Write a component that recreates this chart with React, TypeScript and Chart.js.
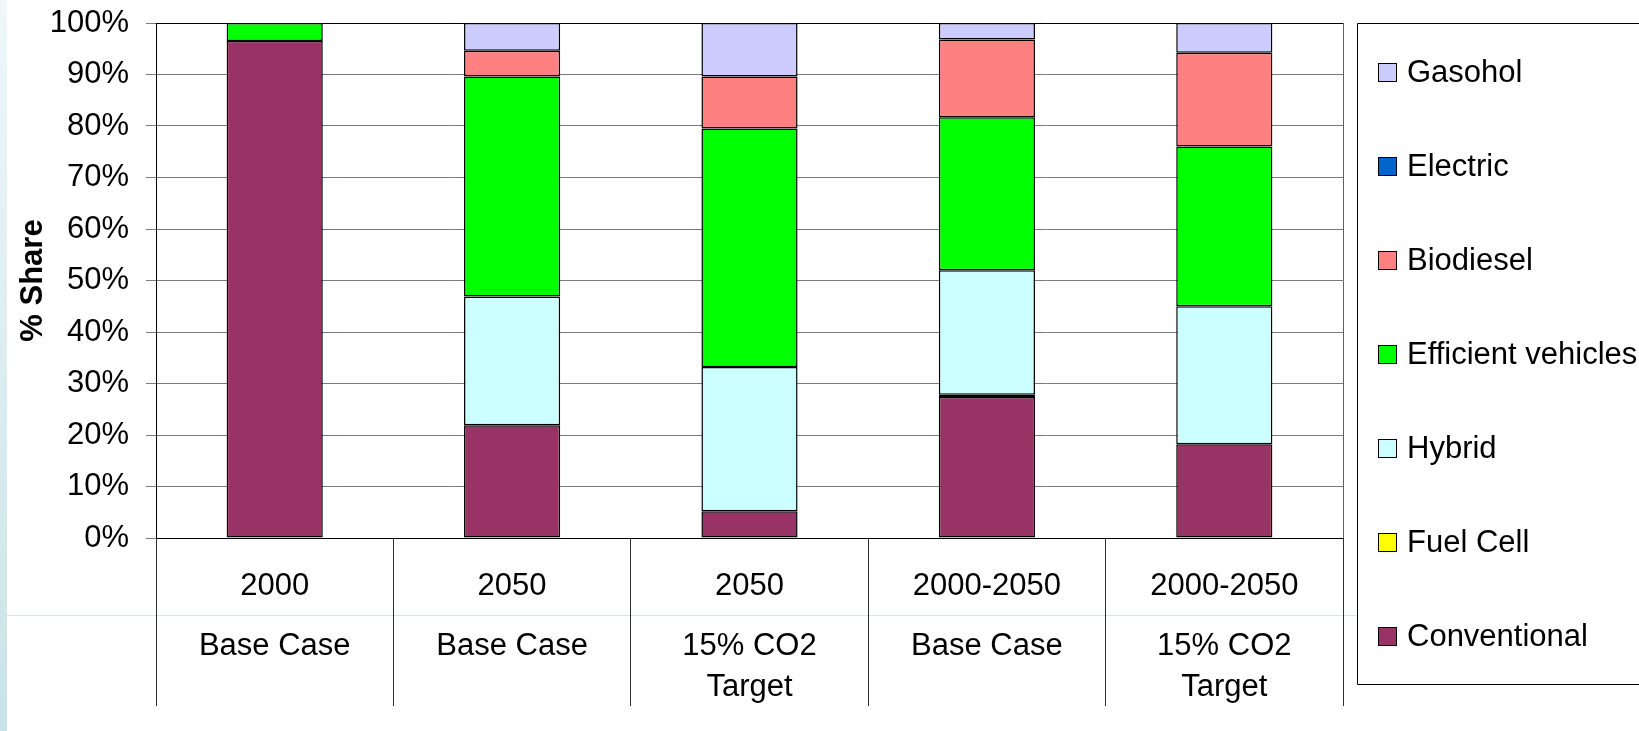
import React, { useEffect, useRef } from 'react';
import { Chart, registerables } from 'chart.js';

Chart.register(...registerables);

// Category axis: period (first row) and scenario (second row)
const periodLabels = ['2000', '2050', '2050', '2000-2050', '2000-2050'];
const scenarioLabels = [['Base Case'], ['Base Case'], ['15% CO2', 'Target'], ['Base Case'], ['15% CO2', 'Target']];

// Share of each vehicle/fuel type, % (stacked bottom to top)
const conventional = [96.5, 21.9, 5.2, 27.4, 18.2];
const fuelCell = [0, 0, 0, 0.4, 0];
const hybrid = [0, 25.0, 28.0, 24.2, 26.8];
const efficientVehicles = [3.5, 42.7, 46.3, 29.7, 31.0];
const biodiesel = [0, 5.0, 10.1, 15.1, 18.2];
const electric = [0, 0, 0, 0, 0];
const gasohol = [0, 5.4, 10.4, 3.2, 5.8];

// Value axis ticks
const shareMin = 0;
const shareMax = 100;
const shareStep = 10;

const FONT = '"Liberation Sans", Arial, Helvetica, sans-serif';
const W = 1639;
const H = 731;

const series = [
  { label: 'Conventional', data: conventional, color: '#993366' },
  { label: 'Fuel Cell', data: fuelCell, color: '#FFFF00' },
  { label: 'Hybrid', data: hybrid, color: '#CCFFFF' },
  { label: 'Efficient vehicles', data: efficientVehicles, color: '#00FF00' },
  { label: 'Biodiesel', data: biodiesel, color: '#FF8080' },
  { label: 'Electric', data: electric, color: '#0066CC' },
  { label: 'Gasohol', data: gasohol, color: '#CCCCFF' },
];

// Slide background: white page, pale strip on the left, faint rule across
const backdropPlugin = {
  id: 'backdrop',
  beforeDraw(chart: any) {
    const { ctx, chartArea } = chart;
    ctx.save();
    ctx.fillStyle = '#ffffff';
    ctx.fillRect(0, 0, chart.width, chart.height);
    const g = ctx.createLinearGradient(0, 0, 0, chart.height);
    g.addColorStop(0, '#EFF7F9');
    g.addColorStop(1, '#C9E3E8');
    ctx.fillStyle = g;
    ctx.fillRect(0, 0, 7, chart.height);
    ctx.strokeStyle = '#D3E7EC';
    ctx.lineWidth = 1;
    ctx.beginPath();
    ctx.moveTo(7, 615.5);
    ctx.lineTo(chartArea.right + 14, 615.5);
    ctx.stroke();
    ctx.restore();
  },
};

// Plot frame (top and right edges) and the boxed legend on the right
const frameLegendPlugin = {
  id: 'frameLegend',
  afterDraw(chart: any) {
    const { ctx, chartArea } = chart;
    ctx.save();
    ctx.lineWidth = 1;
    ctx.strokeStyle = '#000000';
    ctx.beginPath();
    ctx.moveTo(chartArea.left, Math.round(chartArea.top) + 0.5);
    ctx.lineTo(chartArea.right, Math.round(chartArea.top) + 0.5);
    ctx.stroke();
    ctx.strokeStyle = '#606060';
    ctx.beginPath();
    ctx.moveTo(Math.round(chartArea.right) + 0.5, chartArea.top);
    ctx.lineTo(Math.round(chartArea.right) + 0.5, chartArea.bottom);
    ctx.stroke();

    const boxLeft = Math.round(chartArea.right) + 14;
    const boxTop = 23;
    const boxBottom = 684;
    ctx.fillStyle = '#ffffff';
    ctx.fillRect(boxLeft, boxTop, chart.width - boxLeft + 2, boxBottom - boxTop);
    ctx.strokeStyle = '#000000';
    ctx.beginPath();
    ctx.moveTo(chart.width + 2, boxTop + 0.5);
    ctx.lineTo(boxLeft + 0.5, boxTop + 0.5);
    ctx.lineTo(boxLeft + 0.5, boxBottom + 0.5);
    ctx.lineTo(chart.width + 2, boxBottom + 0.5);
    ctx.stroke();

    const sets = chart.data.datasets.slice().reverse();
    ctx.font = `31px ${FONT}`;
    ctx.textBaseline = 'middle';
    ctx.textAlign = 'left';
    sets.forEach((ds: any, i: number) => {
      const y = 72 + i * 94;
      const sx = boxLeft + 21;
      ctx.fillStyle = ds.backgroundColor;
      ctx.fillRect(sx, y - 9, 18, 18);
      ctx.strokeStyle = '#000000';
      ctx.strokeRect(sx + 0.5, y - 9 + 0.5, 18, 18);
      ctx.fillStyle = '#000000';
      ctx.fillText(ds.label, sx + 29, y + 1);
    });
    ctx.restore();
  },
};

export default function App() {
  const ref = useRef<HTMLCanvasElement>(null);

  useEffect(() => {
    if (!ref.current) return;
    Chart.defaults.font.family = FONT;
    Chart.defaults.color = '#000000';
    const chart = new Chart(ref.current, {
      type: 'bar',
      data: {
        labels: periodLabels,
        datasets: series.map((s) => ({
          label: s.label,
          data: s.data,
          backgroundColor: s.color,
          borderColor: '#000000',
          borderWidth: 1.5,
          borderSkipped: false,
          barPercentage: 0.405,
          categoryPercentage: 1,
        })),
      },
      options: {
        animation: false,
        responsive: false,
        devicePixelRatio: 1,
        layout: { padding: { top: 23, right: 296, bottom: 0, left: 0 } },
        plugins: { legend: { display: false }, tooltip: { enabled: false } },
        scales: {
          x: {
            type: 'category',
            position: 'bottom',
            stacked: true,
            weight: 0,
            offset: true,
            grid: {
              display: true,
              drawOnChartArea: false,
              drawTicks: true,
              tickLength: 168,
              color: '#303030',
              lineWidth: 1,
              offset: true,
            },
            border: { display: true, color: '#000000', width: 1 },
            ticks: {
              color: '#000000',
              font: { size: 31, lineHeight: 1.2 },
              padding: -138,
              maxRotation: 0,
              autoSkip: false,
            },
            afterFit: (s: any) => {
              s.height = 77;
            },
          },
          x2: {
            type: 'category',
            position: 'bottom',
            labels: scenarioLabels as any,
            weight: 1,
            offset: true,
            grid: { display: false, drawTicks: false },
            border: { display: false },
            ticks: {
              color: '#000000',
              font: { size: 31, lineHeight: 41 / 31 },
              padding: 11,
              maxRotation: 0,
              autoSkip: false,
            },
            afterFit: (s: any) => {
              s.height = 116;
            },
          },
          y: {
            stacked: true,
            min: shareMin,
            max: shareMax,
            ticks: {
              stepSize: shareStep,
              color: '#000000',
              font: { size: 31 },
              padding: 17,
              callback: (v: any) => `${v}%`,
            },
            grid: { color: '#7a7a7a', lineWidth: 1, tickLength: 10, drawTicks: true },
            border: { display: true, color: '#000000', width: 1 },
            title: {
              display: true,
              text: '% Share',
              color: '#000000',
              font: { size: 31, weight: 'bold', lineHeight: 1.2 },
              padding: { top: 15, bottom: 0 },
            },
            afterFit: (s: any) => {
              s.width = 156;
              s.paddingTop = 0;
              s.paddingBottom = 0;
            },
          },
        },
      } as any,
      plugins: [backdropPlugin, frameLegendPlugin],
    });
    return () => chart.destroy();
  }, []);

  return (
    <div style={{ position: 'absolute', left: 0, top: 0, width: W, height: H, background: '#fff' }}>
      <canvas ref={ref} width={W} height={H} style={{ display: 'block', width: W, height: H }} />
    </div>
  );
}
